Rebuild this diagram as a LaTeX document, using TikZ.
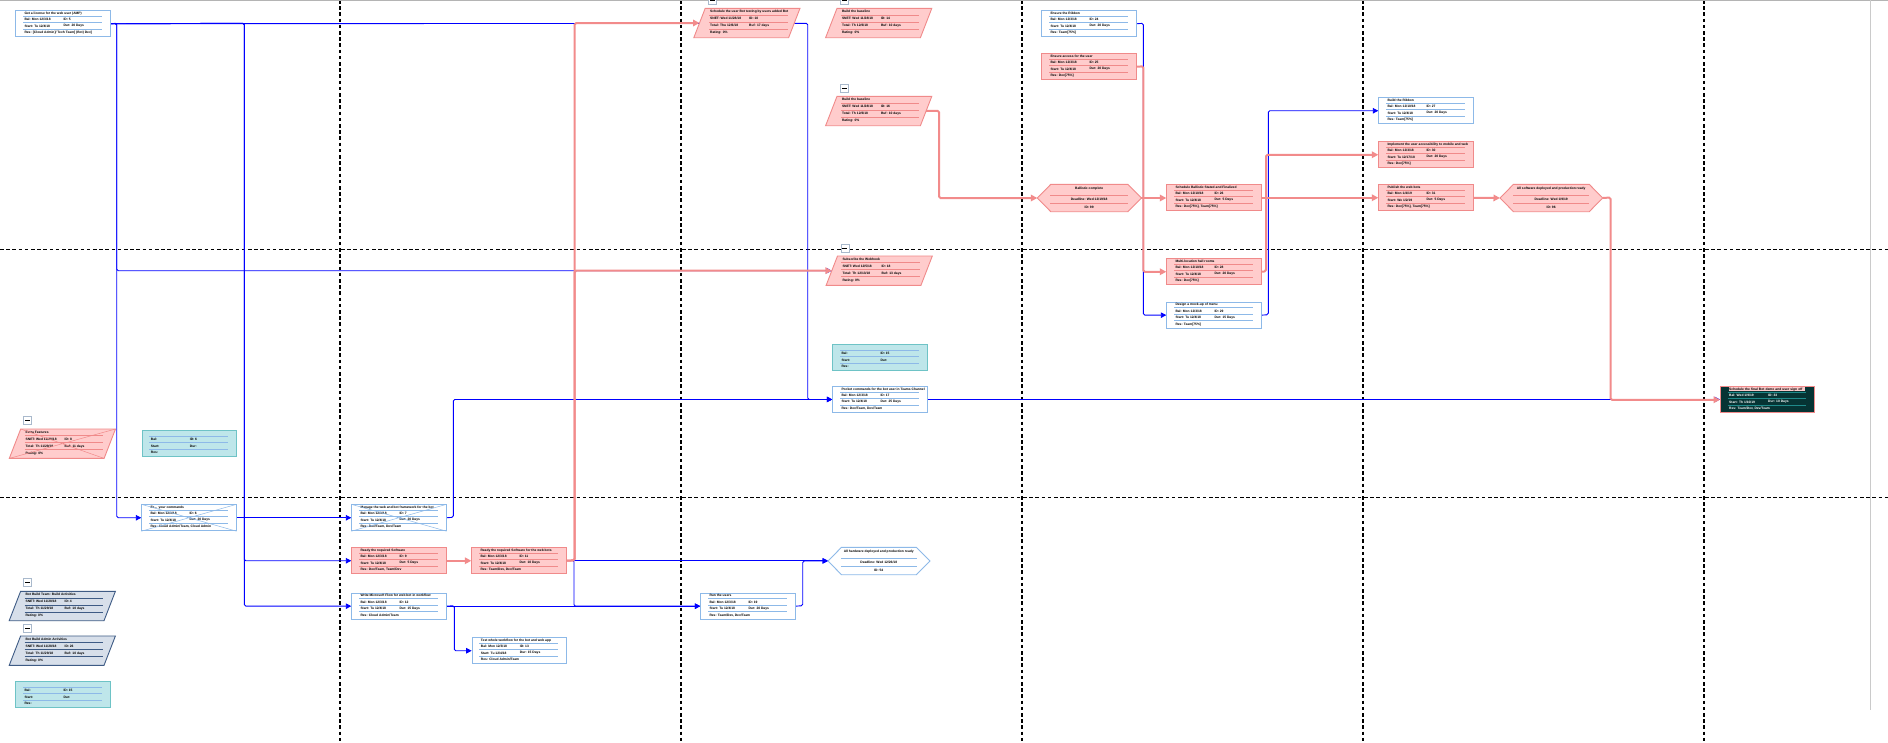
\documentclass[tikz,border=0pt]{standalone}
\usepackage{fontspec}
\setmainfont{Liberation Sans}
\usetikzlibrary{arrows.meta,calc}

\definecolor{flowblue}{HTML}{0000FF}
\definecolor{flowred}{HTML}{F28B8B}
\definecolor{edgeblue}{HTML}{8DB9E8}
\definecolor{redfill}{HTML}{FFCCCC}
\definecolor{rededge}{HTML}{F08A8A}
\definecolor{cyanfill}{HTML}{BEE6EA}
\definecolor{cyanedge}{HTML}{6EC3C6}
\definecolor{darkfill}{HTML}{063434}
\definecolor{darkline}{HTML}{1F8A8A}
\definecolor{slatefill}{HTML}{D7DFEA}
\definecolor{slateedge}{HTML}{3E5B85}
\definecolor{collapseedge}{HTML}{A9B9CC}
\definecolor{framegray}{HTML}{B4B4B4}
\definecolor{hilite}{HTML}{F9C9C9}

\newcommand\tinytext{\fontsize{3.3}{3.6}\selectfont\bfseries}

\pgfdeclarelayer{paper}
\pgfdeclarelayer{gridlayer}
\pgfdeclarelayer{flowlayer}
\pgfsetlayers{paper,gridlayer,flowlayer,main}

\tikzset{
  cellbase/.style={inner sep=0pt, minimum width=94.4pt, minimum height=26pt, anchor=north west, line width=0.9pt},
  blueframe/.style={cellbase, draw=edgeblue, fill=white},
  redframe/.style={cellbase, draw=rededge, fill=redfill},
  cyanframe/.style={cellbase, draw=cyanedge, fill=cyanfill},
  darkframe/.style={cellbase, draw=rededge, fill=darkfill},
  bluerule/.style={draw=edgeblue, line width=0.7pt},
  redrule/.style={draw=rededge, line width=0.7pt},
  cyanrule/.style={draw=edgeblue, line width=0.7pt},
  darkrule/.style={draw=darkline, line width=0.7pt},
  slaterule/.style={draw=slateedge, line width=0.7pt},
  celltext/.style={anchor=west, inner sep=0pt, font=\tinytext, text=black},
  bluetext/.style={celltext},
  redtext/.style={celltext},
  cyantext/.style={celltext},
  slatetext/.style={celltext},
  darktext/.style={celltext, text=white},
  bluetitle/.style={celltext},
  redtitle/.style={celltext},
  cyantitle/.style={celltext},
  darktitle/.style={celltext, fill=hilite, text width=76pt, align=left, minimum height=3.6pt},
  paracell/.style={inner sep=0pt, minimum width=94.4pt, minimum height=29pt, anchor=north west},
  redpara/.style={draw=rededge, fill=redfill, line width=0.9pt},
  slatepara/.style={draw=slateedge, fill=slatefill, line width=0.9pt},
  hexcell/.style={inner sep=0pt, minimum height=27pt, anchor=north west},
  redhex/.style={draw=rededge, fill=redfill, line width=0.9pt},
  bluehex/.style={draw=edgeblue, fill=white, line width=0.9pt},
  hextext/.style={anchor=center, inner sep=0pt, font=\tinytext, text=black},
  collapsebox/.style={inner sep=0pt, minimum size=8pt, anchor=north west, draw=collapseedge, fill=white, line width=0.7pt},
  crossblue/.style={draw=edgeblue, line width=0.5pt},
  crossred/.style={draw=rededge, line width=0.5pt},
  bflow/.style={draw=flowblue, line width=0.9pt, rounded corners=1.5pt, -{Triangle[length=5.5pt,width=5.5pt]}},
  rflow/.style={draw=flowred, line width=2pt, rounded corners=1.5pt, -{Triangle[length=6.5pt,width=6.5pt]}},
  gridline/.style={draw=black, line width=1.1pt, dash pattern=on 3.6pt off 2.6pt},
}

% task card: name, (x,y) top-left, kind, title, four cells, resources
\newcommand\taskbox[9]{%
  \node[#3frame] (#1) at #2 {};
  \begin{scope}[shift={(#1.north west)}]
    \draw[#3rule] (7.7,6) -- (86.4,6) (7.7,12.3) -- (86.4,12.3) (7.7,19) -- (86.4,19);
    \node[#3title] (#1-t) at (9,2.9) {#4};
    \node[#3text] (#1-a) at (9,9.2) {#5};
    \node[#3text] (#1-b) at (48,9.2) {#6};
    \node[#3text] (#1-c) at (9,15.7) {#7};
    \node[#3text] (#1-d) at (48,15.7) {#8};
    \node[#3text] (#1-e) at (9,22.5) {#9};
  \end{scope}}

% slanted summary card: name, (x,y) of left edge midpoint column / top, kind, texts
\newcommand\paratask[9]{%
  \node[paracell] (#1) at #2 {};
  \path[#3para] ([xshift=5.7pt]#1.north west) -- ([xshift=5.7pt]#1.north east)
     -- ([xshift=-5.7pt]#1.south east) -- ([xshift=-5.7pt]#1.south west) -- cycle;
  \begin{scope}[shift={(#1.north west)}]
    \draw[#3rule] (9.6,6.7) -- (88,6.7) (9.6,13.7) -- (88,13.7) (9.6,20.7) -- (88,20.7);
    \node[#3text] (#1-t) at (10.5,3.4) {#4};
    \node[#3text] (#1-a) at (10.5,10.3) {#5};
    \node[#3text] (#1-b) at (49.5,10.3) {#6};
    \node[#3text] (#1-c) at (10.5,17.3) {#7};
    \node[#3text] (#1-d) at (49.5,17.3) {#8};
    \node[#3text] (#1-e) at (10.5,24.3) {#9};
  \end{scope}}

% milestone hexagon: name, (x,y) top-left, width, kind, three lines
\newcommand\milestone[7]{%
  \node[hexcell, minimum width=#3pt] (#1) at #2 {};
  \path[#4hex] (#1.west) -- ([xshift=13.5pt]#1.north west) -- ([xshift=-13.5pt]#1.north east)
     -- (#1.east) -- ([xshift=-13.5pt]#1.south east) -- ([xshift=13.5pt]#1.south west) -- cycle;
  \begin{scope}[shift={(#1.north west)}]
    \draw[#4rule] (13,11) -- ({#3-13},11) (13,19.3) -- ({#3-13},19.3);
    \node[hextext] (#1-t) at ({#3/2},4.8) {#5};
    \node[hextext] (#1-a) at ({#3/2},14.6) {#6};
    \node[hextext] (#1-b) at ({#3/2},22.6) {#7};
  \end{scope}}

% collapse toggle
\newcommand\collapser[2]{%
  \node[collapsebox] (#1) at #2 {};
  \draw[line width=0.7pt] ([xshift=-2.4pt]#1.center) -- ([xshift=2.4pt]#1.center);}

\begin{document}
\begin{tikzpicture}[x=1pt, y=-1pt]
\useasboundingbox (0,0) rectangle (1888,742);
\begin{pgfonlayer}{paper}
  \fill[white] (0,0) rectangle (1888,742);
\end{pgfonlayer}

% lane grid and window frame
\begin{pgfonlayer}{gridlayer}
  \foreach \gx in {340,681,1022,1363,1704}
    \draw[gridline] (\gx,0) -- (\gx,742);
  \foreach \gy in {249.3,497.3}
    \draw[gridline] (0,\gy) -- (1888,\gy);
  \draw[framegray, line width=1.5pt] (0,0.6) -- (1888,0.6);
  \draw[framegray!70, line width=0.8pt] (1870,0) -- (1870,710);
\end{pgfonlayer}

% ---- task cards ----
\taskbox{n1}{(15.3,10.3)}{blue}{Get a license for the web user (AMP)}{Bal: Mon 12/3/18}{ID: 5}{Start: Tu 12/4/18}{Dur: 20 Days}{Res: [Cloud Admin]/ Tech Team[ (Bot) Dev]}
\taskbox{ribbon1}{(1041.3,10.3)}{blue}{Ensure the Ribbon}{Bal: Mon 12/3/18}{ID: 24}{Start: Tu 12/4/18}{Dur: 20 Days}{Res: Team[75\%]}
\taskbox{ensure2}{(1041.3,53.3)}{red}{Ensure access for the user}{Bal: Mon 12/3/18}{ID: 25}{Start: Tu 12/4/18}{Dur: 20 Days}{Res: Dev[75\%]}
\taskbox{schedule}{(1166.3,184.3)}{red}{Schedule Ballistic Stated and Finalized}{Bal: Mon 12/10/18}{ID: 26}{Start: Tu 12/4/18}{Dur: 5 Days}{Res: Dev[75\%], Team[75\%]}
\taskbox{multi}{(1166.3,258.3)}{red}{Multi-location hall rooms}{Bal: Mon 12/10/18}{ID: 28}{Start: Tu 12/4/18}{Dur: 20 Days}{Res: Dev[75\%]}
\taskbox{bluebox4}{(1166.3,301.7)}{blue}{Design a mock-up of menu}{Bal: Mon 12/3/18}{ID: 29}{Start: Tu 12/4/18}{Dur: 15 Days}{Res: Team[75\%]}
\taskbox{buildribbon}{(1378.3,97.3)}{blue}{Build the Ribbon}{Bal: Mon 12/10/18}{ID: 27}{Start: Tu 12/4/18}{Dur: 20 Days}{Res: Team[75\%]}
\taskbox{implement}{(1378.3,141.3)}{red}{Implement the user accessibility to mobile and web}{Bal: Mon 12/3/18}{ID: 30}{Start: Tu 12/17/18}{Dur: 20 Days}{Res: Dev[75\%]}
\taskbox{publish}{(1378.3,184.3)}{red}{Publish the web bots}{Bal: Mon 1/4/19}{ID: 31}{Start: We 1/2/19}{Dur: 5 Days}{Res: Dev[75\%], Team[75\%]}
\taskbox{final}{(1720,386.3)}{dark}{Schedule the final Bot demo and user sign off}{Bal: Wed 1/9/19}{ID: 33}{Start: Th 1/10/19}{Dur: 10 Days}{Res: Team/Dev, Dev/Team}
\taskbox{pocket}{(832.3,386)}{blue}{Pocket commands for the bot user in Teams Channel}{Bal: Mon 12/3/18}{ID: 17}{Start: Tu 12/4/18}{Dur: 25 Days}{Res: Dev/Team, Dev/Team}
\taskbox{cyan2}{(832.3,344.3)}{cyan}{}{Bal:}{ID: 15}{Start:}{Dur:}{Res:}
\taskbox{cyan1}{(141.7,430.3)}{cyan}{}{Bal:}{ID: 6}{Start:}{Dur:}{Res:}
\taskbox{cyan3}{(15.3,681.3)}{cyan}{}{Bal:}{ID: 15}{Start:}{Dur:}{Res:}
\taskbox{excmd}{(141.3,504.3)}{blue}{Ex... your commands}{Bal: Mon 12/3/18}{ID: 6}{Start: Tu 12/4/18}{Dur: 20 Days}{Res: Cloud Admin/Team, Cloud Admin}
\taskbox{manage}{(351.3,504.3)}{blue}{Manage the web and bot framework for the bot}{Bal: Mon 12/3/18}{ID: 7}{Start: Tu 12/4/18}{Dur: 20 Days}{Res: Dev/Team, Dev/Team}
\taskbox{ready1}{(351.3,547.3)}{red}{Ready the required Software}{Bal: Mon 12/3/18}{ID: 9}{Start: Tu 12/4/18}{Dur: 5 Days}{Res: Dev/Team, Team/Dev}
\taskbox{ready2}{(471.3,547.3)}{red}{Ready the required Software for the web bots}{Bal: Mon 12/3/18}{ID: 11}{Start: Tu 12/4/18}{Dur: 10 Days}{Res: Team/Dev, Dev/Team}
\taskbox{write}{(351.3,592.7)}{blue}{Write Microsoft Flow for web bot in workflow}{Bal: Mon 12/3/18}{ID: 12}{Start: Tu 12/4/18}{Dur: 15 Days}{Res: Cloud Admin/Team}
\taskbox{testbot}{(471.7,637.3)}{blue}{Test whole workflow for the bot and web app}{Bal: Mon 12/3/18}{ID: 13}{Start: Tu 12/4/18}{Dur: 15 Days}{Res: Cloud Admin/Team}
\taskbox{run}{(700.3,592.7)}{blue}{Run the users}{Bal: Mon 12/3/18}{ID: 19}{Start: Tu 12/4/18}{Dur: 20 Days}{Res: Team/Dev, Dev/Team}

% inactive cards are struck through
\draw[crossblue] (excmd.north west) -- (excmd.south east) (excmd.north east) -- (excmd.south west);
\draw[crossblue] (manage.north west) -- (manage.south east) (manage.north east) -- (manage.south west);

% ---- summary cards ----
\paratask{p1}{(699.5,8.3)}{red}{Schedule the user Bot testing by users added Bot}{SNET: Wed 11/28/18}{ID: 10}{Total: Thu 12/6/18}{Buf: 17 days}{Rating: 0\%}
\paratask{p2}{(831.3,8.3)}{red}{Build the baseline}{SNET: Wed 11/28/18}{ID: 14}{Total: Th 12/6/18}{Buf: 10 days}{Rating: 0\%}
\paratask{p3}{(831.3,96.3)}{red}{Build the baseline}{SNET: Wed 11/28/18}{ID: 16}{Total: Th 12/6/18}{Buf: 10 days}{Rating: 0\%}
\paratask{p4}{(831.8,256)}{red}{Subscribe the Webhook}{SNET: Wed 12/5/18}{ID: 18}{Total: Th 12/13/18}{Buf: 13 days}{Rating: 0\%}
\paratask{p5}{(15,429)}{red}{Extra Features}{SNET: Wed 11/28/18}{ID: 8}{Total: Th 11/29/18}{Buf: 11 days}{Rating: 0\%}
\paratask{g1}{(14.9,591.3)}{slate}{Bot Build Team: Build Activities}{SNET: Wed 11/28/18}{ID: 4}{Total: Th 11/29/18}{Buf: 10 days}{Rating: 0\%}
\paratask{g2}{(14.9,636)}{slate}{Bot Build Admin Activities}{SNET: Wed 11/28/18}{ID: 26}{Total: Th 11/29/18}{Buf: 10 days}{Rating: 0\%}
\draw[crossred] ([xshift=5.7pt]p5.north west) -- ([xshift=-5.7pt]p5.south east)
                ([xshift=5.7pt]p5.north east) -- ([xshift=-5.7pt]p5.south west);

\collapser{c1}{(708.3,-4.5)}
\collapser{c2}{(840,-4.5)}
\collapser{c3}{(840,84)}
\collapser{c4}{(840.5,243.5)}
\collapser{c5}{(23.3,416.2)}
\collapser{c6}{(23.3,578.3)}
\collapser{c7}{(23.3,623.7)}

% ---- milestones ----
\milestone{hb}{(1037.3,184.3)}{103.7}{red}{Ballistic complete}{Deadline: Wed 12/19/18}{ID: 99}
\milestone{hpub}{(1500,184.3)}{102.3}{red}{All software deployed and production ready}{Deadline: Wed 1/9/19}{ID: 96}
\milestone{hin}{(828,547.3)}{101.5}{blue}{All hardware deployed and production ready}{Deadline: Wed 12/26/18}{ID: 54}

% ---- dependencies ----
\begin{pgfonlayer}{flowlayer}
  \draw[bflow] (n1.east) -- (807.7,23.3) |- (pocket.west);
  \draw[bflow] (n1.east) -- (116.7,23.3) |- (excmd.west);
  \draw[bflow] (n1.east) -- (116.7,23.3) |- (p4.west);
  \draw[bflow] (n1.east) -- (244.3,23.3) |- (ready1.west);
  \draw[bflow] (n1.east) -- (244.3,23.3) |- (write.west);
  \draw[bflow] (excmd.east) -- (manage.west);
  \draw[bflow] (manage.east) -- (453.3,517.3) |- (pocket.west);
  \draw[bflow] (ready2.east) -- (ready2.east -| hin.west);
  \draw[bflow] (ready2.east) -- (574,560.3) |- (run.west);
  \draw[bflow] (write.east) -- (run.west);
  \draw[bflow] (write.east) -- (454.3,605.7) |- (testbot.west);
  \draw[bflow] (run.east) -- (802.7,605.7) |- (hin.west);
  \draw[bflow] (pocket.east) -- (pocket.east -| final.west);
  \draw[bflow] (ribbon1.east) -- (1143.3,23.3) |- (bluebox4.west);
  \draw[bflow] (bluebox4.east) -- (1268.3,314.7) |- (buildribbon.west);

  \draw[rflow] (ready1.east) -- (ready2.west);
  \draw[rflow] (ready2.east) -- (574.7,560.3) |- (p1.west);
  \draw[rflow] (ready2.east) -- (574.7,560.3) |- (p4.west);
  \draw[rflow] (p3.east) -- (939,110.8) |- (hb.west);
  \draw[rflow] (hb.east) -- (hb.east -| schedule.west);
  \draw[rflow] (ensure2.east) -- (1143.3,66.3) |- (multi.west);
  \draw[rflow] (schedule.east) -- (publish.west);
  \draw[rflow] (multi.east) -- (1266,271.3) |- (implement.west);
  \draw[rflow] (publish.east) -- (hpub.west);
  \draw[rflow] (hpub.east) -- (1610.5,197.5) |- (final.west);
\end{pgfonlayer}
\end{tikzpicture}
\end{document}
